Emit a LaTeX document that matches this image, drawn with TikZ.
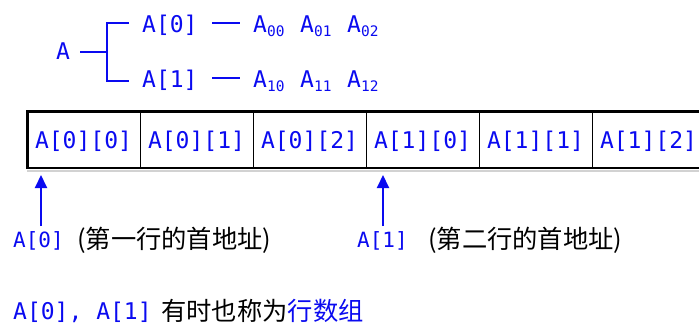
\documentclass[tikz,border=0pt]{standalone}
\usepackage{fontspec}
\newfontfamily\monof{DejaVu Sans Mono}
\newfontfamily\cjkf{Noto Sans CJK SC}
\usetikzlibrary{arrows.meta}
\definecolor{tblue}{RGB}{10,10,240}
\tikzset{
  mono/.style={font=\monof\fontsize{23}{23}\selectfont, text=tblue, inner sep=0pt, anchor=base west},
  monolab/.style={font=\monof\fontsize{21}{21}\selectfont, text=tblue, inner sep=0pt, anchor=base west},
  cjktxt/.style={font=\cjkf\fontsize{25.3}{25.3}\selectfont, text=black, inner sep=0pt, anchor=base west},
  celltxt/.style={font=\monof\fontsize{23}{23}\selectfont, text=tblue, inner sep=0pt, anchor=base},
  bracketline/.style={draw=tblue, line width=2.3pt},
  dashline/.style={draw=tblue, line width=1.6pt},
  uparrow/.style={draw=tblue, line width=2pt, -{Triangle[length=13pt,width=12pt]}},
}
\newcommand{\Asub}[1]{A\raisebox{-4pt}{\fontsize{14.5}{14.5}\selectfont #1}}
\begin{document}
\begin{tikzpicture}[x=1pt,y=-1pt]
\useasboundingbox (0,0) rectangle (699,325);
% top tree
\node[mono] (A) at (56,59) {A};
\node[mono] (r0) at (142,32) {A[0]};
\node[mono] (r1) at (142,87) {A[1]};
\coordinate (fork) at (107,52);
\coordinate (b0) at (129,23);
\coordinate (b1) at (129,81);
\draw[bracketline] (A.east |- fork) ++(10,0) -- (fork);
\draw[bracketline, line join=miter] (b0) -- (fork |- b0) -- (fork |- b1) -- (b1);
\coordinate (d0s) at (212,23); \coordinate (d0e) at (240,23);
\coordinate (d1s) at (212,78); \coordinate (d1e) at (240,78);
\draw[dashline] (d0s) -- (d0e);
\draw[dashline] (d1s) -- (d1e);
\node[mono] (a00) at (253,32) {\Asub{00}};
\node[mono] (a01) at (300,32) {\Asub{01}};
\node[mono] (a02) at (347,32) {\Asub{02}};
\node[mono] (a10) at (253,87) {\Asub{10}};
\node[mono] (a11) at (300,87) {\Asub{11}};
\node[mono] (a12) at (347,87) {\Asub{12}};
% memory row
\draw[gray!35, line width=1.5pt] (27,170.8) -- (699,170.8);
\foreach \x in {140,253,366,479,592} {
  \draw[black, line width=1pt] (\x,111.3) -- (\x,168);
}
\draw[black, line width=2.7pt] (27.3,111.3) rectangle (705.3,168);
\node[celltxt] (c00) at (83.5,148) {A[0][0]};
\node[celltxt] (c01) at (196.5,148) {A[0][1]};
\node[celltxt] (c02) at (309.5,148) {A[0][2]};
\node[celltxt] (c10) at (422.5,148) {A[1][0]};
\node[celltxt] (c11) at (535.5,148) {A[1][1]};
\node[celltxt] (c12) at (648.5,148) {A[1][2]};
% arrows and labels
\node[monolab] (l0) at (13,247) {A[0]};
\node[cjktxt] (t0) at (77,248) {(第一行的首地址)};
\node[monolab] (l1) at (357,247) {A[1]};
\node[cjktxt] (t1) at (428,248) {(第二行的首地址)};
\coordinate (s0) at (41,226); \coordinate (e0) at (41,175);
\coordinate (s1) at (383,226); \coordinate (e1) at (383,175);
\draw[uparrow] (s0) -- (e0);
\draw[uparrow] (s1) -- (e1);
% bottom line
\node[mono] (bm) at (13,319) {A[0], A[1]};
\node[cjktxt] (bc) at (161,320) {有时也称为\textcolor{tblue}{行数组}};
\end{tikzpicture}
\end{document}
